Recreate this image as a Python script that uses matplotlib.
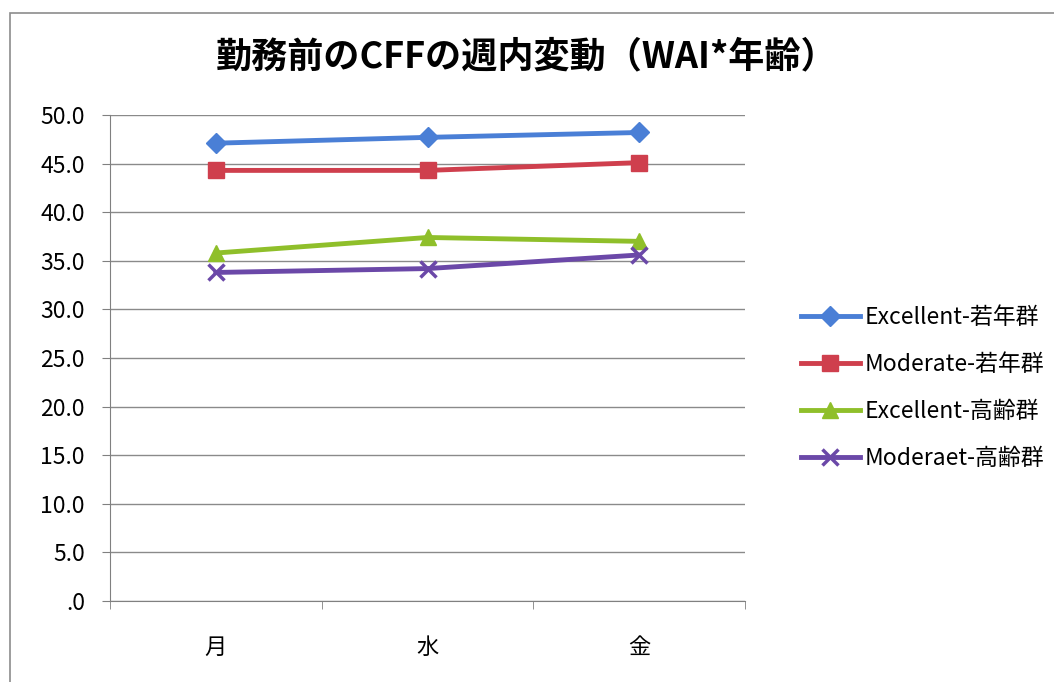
import matplotlib
import matplotlib.pyplot as plt
from matplotlib.patches import Rectangle

matplotlib.use('Agg')
plt.rcParams['font.family'] = ['Noto Sans CJK JP', 'DejaVu Sans']

days = ['月', '水', '金']
excellent_young = [47.1, 47.7, 48.2]
moderate_young = [44.3, 44.3, 45.1]
excellent_old = [35.8, 37.4, 37.0]
moderate_old = [33.8, 34.2, 35.6]
labels = ['Excellent-若年群', 'Moderate-若年群', 'Excellent-高齢群', 'Moderaet-高齢群']
yticks = [0, 5, 10, 15, 20, 25, 30, 35, 40, 45, 50]

fig = plt.figure(figsize=(10.54, 6.82), dpi=100)
# outer chart frame
fig.patches.append(Rectangle((10 / 1054, -0.05), 1.1, 1 - 13 / 682 + 0.05, transform=fig.transFigure,
                             fill=False, edgecolor='#8c8c8c', linewidth=1.2))

ax = fig.add_axes([110 / 1054, 1 - 601 / 682, 635 / 1054, 486 / 682])

series = [excellent_young, moderate_young, excellent_old, moderate_old]
colors = ['#4a7fd6', '#cf3f4d', '#8fbf2a', '#6b48a8']
markers = ['D', 's', '^', 'x']
msizes = [10, 12, 12, 12]
x = range(len(days))
for vals, c, m, ms, lab in zip(series, colors, markers, msizes, labels):
    ax.plot(x, vals, color=c, marker=m, markersize=ms, linewidth=3.5, label=lab,
            markeredgewidth=2.5 if m == 'x' else 1, markeredgecolor=c)

ax.set_xlim(-0.5, 2.5)
ax.set_ylim(0, 50)
ax.set_yticks(yticks)
ax.set_yticklabels(['.0' if v == 0 else f'{v:.1f}' for v in yticks], fontsize=16.5)
ax.set_xticks(list(x))
ax.set_xticklabels(days, fontsize=16)
ax.set_xticks([-0.5, 0.5, 1.5, 2.5], minor=True)
ax.tick_params(axis='x', which='major', length=0, pad=25)
ax.tick_params(axis='x', which='minor', length=6, color='#808080')
ax.tick_params(axis='y', length=6, color='#808080', pad=12)
ax.grid(axis='y', color='#8a8a8a', linewidth=1)
ax.set_axisbelow(True)
for s in ['top', 'right']:
    ax.spines[s].set_visible(False)
ax.spines['left'].set_color('#808080')
ax.spines['bottom'].set_color('#808080')

fig.text(0.5, 0.916, '勤務前のCFFの週内変動（WAI*年齢）', ha='center', va='center',
         fontsize=26, fontweight='bold')

fig.legend(loc='center left', bbox_to_anchor=(0.74, 0.431), frameon=False, fontsize=16.5,
           handlelength=2.6, labelspacing=1.05, handletextpad=0.2)

plt.savefig('out.png', dpi=100)
